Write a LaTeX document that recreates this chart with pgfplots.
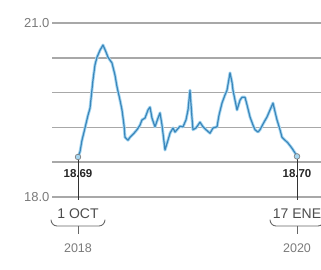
\documentclass[border=0pt]{standalone}
\usepackage{fontspec}
\setmainfont{Liberation Sans}
\usepackage{pgfplots}
\pgfplotsset{compat=1.18}
\definecolor{gridc}{HTML}{A8A8A8}
\definecolor{linedark}{HTML}{3A86BB}
\definecolor{linelight}{HTML}{A6D6F0}
\definecolor{labc}{HTML}{7A7A7A}
\pgfplotstableread{
x y
78 18.69
80 18.78
82 18.98
85 19.19
88 19.41
90 19.53
93 20.02
95 20.28
97 20.41
100 20.53
103 20.62
106 20.50
108 20.41
112 20.31
115 20.10
117 19.90
120 19.67
122 19.50
124 19.24
125 19.03
128 18.98
130 19.03
134 19.10
137 19.16
140 19.24
142 19.33
145 19.36
148 19.50
150 19.55
152 19.36
155 19.21
158 19.36
160 19.45
162 19.24
165 18.81
168 18.98
170 19.10
173 19.19
175 19.12
177 19.16
180 19.22
183 19.21
186 19.33
188 19.50
190 19.84
192 19.36
193 19.16
196 19.19
200 19.29
203 19.21
206 19.16
210 19.10
213 19.19
217 19.21
219 19.41
222 19.62
225 19.76
227 19.84
230 20.14
232 19.98
233 19.84
235 19.67
237 19.50
240 19.67
242 19.72
245 19.72
247 19.59
250 19.38
253 19.24
255 19.16
258 19.12
260 19.16
264 19.29
267 19.38
270 19.50
273 19.62
275 19.47
277 19.33
280 19.16
282 19.03
285 18.98
288 18.93
292 18.84
295 18.76
297 18.70
}\datatable
\begin{document}
\begin{tikzpicture}[x=1pt,y=1pt]
\path[use as bounding box] (0,0) rectangle (321,270);
\begin{axis}[
  at={(52pt,73pt)}, anchor=south west,
  scale only axis, width=269pt, height=174pt,
  xmin=52, xmax=321, ymin=18, ymax=21,
  axis line style={draw=none},
  xtick=\empty,
  ytick={18,18.6,19.2,19.8,20.4,21},
  yticklabels={18.0,{},{},{},{},21.0},
  major tick length=0pt,
  ymajorgrids,
  grid style={gridc, line width=1.4pt},
  yticklabel style={font=\fontsize{13}{13}\selectfont, text=labc, xshift=1pt},
  /pgf/number format/assume math mode=true,
  clip=false,
]
\addplot[linelight, line width=3pt, line join=round] table[x=x,y=y]{\datatable};
\addplot[linedark, line width=1.2pt, line join=round] table[x=x,y=y]{\datatable};
% start annotation
\draw[black!80, line width=1pt] (axis cs:78,18.69) -- (axis cs:78,17.95);
\node[font=\bfseries\fontsize{11.5}{11.5}\selectfont, text=black!85] at (axis cs:78,18.41) {18.69};
\node[font=\fontsize{14}{14}\selectfont, text=black!70] at (axis cs:78,17.72) {1 OCT};
\draw[black!60, line width=0.9pt] (axis cs:51,17.61) to[out=-90,in=180] (axis cs:57,17.50) -- (axis cs:99,17.50) to[out=0,in=-90] (axis cs:105,17.61);
\draw[black!60, line width=0.9pt] (axis cs:78,17.50) -- (axis cs:78,17.37);
\node[font=\fontsize{12.5}{12.5}\selectfont, text=labc] at (axis cs:78,17.12) {2018};
% end annotation
\draw[black!80, line width=1pt] (axis cs:297,18.70) -- (axis cs:297,17.95);
\node[font=\bfseries\fontsize{11.5}{11.5}\selectfont, text=black!85] at (axis cs:297,18.41) {18.70};
\node[font=\fontsize{14}{14}\selectfont, text=black!70] at (axis cs:297,17.72) {17 ENE};
\draw[black!60, line width=0.9pt] (axis cs:270,17.61) to[out=-90,in=180] (axis cs:276,17.50) -- (axis cs:318,17.50) to[out=0,in=-90] (axis cs:324,17.61);
\draw[black!60, line width=0.9pt] (axis cs:297,17.50) -- (axis cs:297,17.37);
\node[font=\fontsize{12.5}{12.5}\selectfont, text=labc] at (axis cs:297,17.12) {2020};
\addplot[only marks, mark=*, mark size=2.8pt, mark options={fill=linelight, draw=gray, line width=0.7pt}] coordinates {(78,18.69) (297,18.70)};
\end{axis}
\end{tikzpicture}
\end{document}
